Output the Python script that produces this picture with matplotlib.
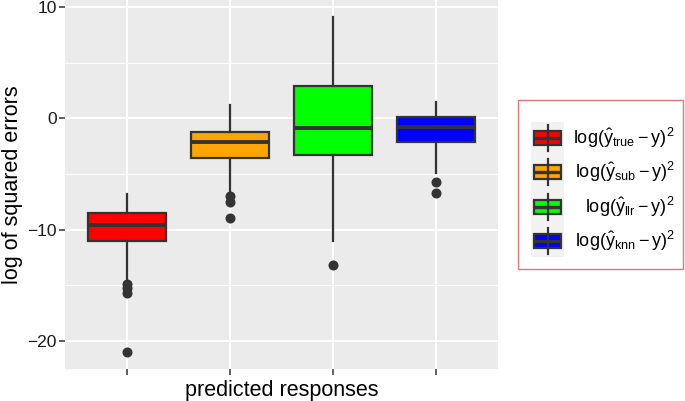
import matplotlib
matplotlib.use('Agg')
import matplotlib.pyplot as plt
import matplotlib.patches as mpatches
import numpy as np

plt.rcParams['font.family'] = ['Liberation Sans', 'DejaVu Sans']
plt.rcParams['mathtext.fontset'] = 'custom'
plt.rcParams['mathtext.rm'] = 'Liberation Sans'
plt.rcParams['mathtext.it'] = 'Liberation Sans'
plt.rcParams['mathtext.bf'] = 'Liberation Sans:bold'

# dati (statistiche dei boxplot)
methods = ['true', 'sub', 'llr', 'knn']
colors = ['#FF0000', '#FFA500', '#00FF00', '#0000FF']
q1 = [-10.99, -3.57, -3.30, -2.08]
med = [-9.61, -2.13, -0.88, -0.73]
q3 = [-8.47, -1.18, 2.91, 0.13]
whislo = [-14.60, -6.56, -11.05, -4.92]
whishi = [-6.80, 1.21, 9.13, 1.45]
fliers = [[-14.87, -15.20, -15.68, -21.00],
          [-7.01, -7.55, -8.95],
          [-13.14],
          [-5.72, -6.71]]
labels = [r'$\mathrm{log}(\hat{y}_{\mathrm{%s}}-y)^2$' % m for m in methods]

edge = '#333333'

fig = plt.figure(figsize=(6.85, 4.01), dpi=100)
ax = fig.add_axes([65 / 685, 32 / 401, 433 / 685, 369 / 401])

stats = []
for i in range(len(methods)):
    stats.append(dict(q1=q1[i], med=med[i], q3=q3[i], whislo=whislo[i],
                      whishi=whishi[i], fliers=fliers[i]))

positions = np.arange(1, len(methods) + 1)
bp = ax.bxp(stats, positions=positions, widths=0.75, patch_artist=True,
            showcaps=False,
            boxprops=dict(edgecolor=edge, linewidth=1.6),
            medianprops=dict(color=edge, linewidth=2.8, solid_capstyle='butt'),
            whiskerprops=dict(color=edge, linewidth=1.6),
            flierprops=dict(marker='o', markerfacecolor=edge, markeredgecolor=edge,
                            markersize=6.2))
for patch, c in zip(bp['boxes'], colors):
    patch.set_facecolor(c)

# limiti come ggplot (espansione 5%)
all_vals = np.concatenate([whislo, whishi] + [np.array(f) for f in fliers])
lo, hi = all_vals.min(), all_vals.max()
pad = 0.05 * (hi - lo)
ax.set_ylim(lo - pad, hi + pad)
ax.set_xlim(0.4, len(methods) + 0.6)

ax.set_facecolor('#EBEBEB')
for s in ax.spines.values():
    s.set_visible(False)
ax.set_axisbelow(True)
ax.set_yticks([-20, -10, 0, 10])
ax.set_yticks([-15, -5, 5], minor=True)
ax.set_xticks(positions)
ax.set_xticklabels([''] * len(methods))
ax.grid(which='major', color='white', linewidth=1.5)
ax.grid(which='minor', axis='y', color='white', linewidth=0.8)
ax.tick_params(which='major', length=4, width=1.1, color=edge, labelsize=12.5,
               labelcolor='#1a1a1a', pad=2)
ax.tick_params(which='minor', length=0)
ax.set_ylabel('log of squared errors', fontsize=15.5, labelpad=3)
ax.set_xlabel('predicted responses', fontsize=15.5, labelpad=2)

# legenda disegnata a mano (etichette allineate a destra)
lax = fig.add_axes([518 / 685, (401 - 269) / 401, 165 / 685, 169 / 401])
lax.set_xlim(0, 165)
lax.set_ylim(169, 0)
lax.axis('off')
lax.add_patch(mpatches.Rectangle((0, 0), 165, 169, facecolor='white',
                                 edgecolor='#E07878', linewidth=1.0, clip_on=False))
lax.add_patch(mpatches.Rectangle((13, 22), 33, 135, facecolor='#F2F2F2',
                                 edgecolor='none'))
for i, (c, lab) in enumerate(zip(colors, labels)):
    yc = 38 + i * 34.3
    lax.plot([29.5, 29.5], [yc - 13, yc + 13], color=edge, linewidth=1.6)
    lax.add_patch(mpatches.Rectangle((16, yc - 7), 27, 14, facecolor=c,
                                     edgecolor=edge, linewidth=1.6))
    lax.plot([16, 43], [yc, yc], color=edge, linewidth=2.4, solid_capstyle='butt')
    lax.text(157, yc, lab, ha='right', va='center', fontsize=13, color='black')

fig.savefig('out.png', dpi=100)
